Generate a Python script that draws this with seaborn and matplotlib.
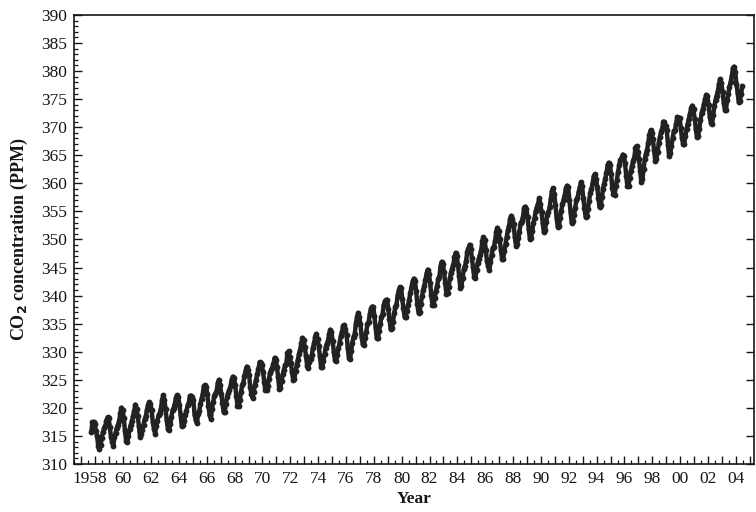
import numpy as np
import pandas as pd
import matplotlib
matplotlib.use("Agg")
import matplotlib.pyplot as plt
import matplotlib.transforms as mtransforms
from matplotlib.ticker import FixedLocator, MultipleLocator, FixedFormatter
import seaborn as sns

# Monthly mean CO2 at Mauna Loa (ppm), starting March 1958
co2_1950s = [315.71, 317.45, 317.50, 317.10, 315.86, 314.93, 313.20, 312.66, 313.33, 314.67,
             315.62, 316.38, 316.71, 317.72, 318.29, 318.15, 316.54, 314.80, 313.84, 313.26, 314.80, 315.58]
co2_1960s = [316.43, 316.97, 317.58, 319.02, 320.03, 319.59, 318.18, 315.91, 314.16, 313.83, 315.00, 316.19,
             316.93, 317.70, 318.54, 319.48, 320.58, 319.77, 318.57, 316.79, 314.80, 315.38, 316.10, 317.01,
             317.94, 318.55, 319.68, 320.57, 321.02, 320.62, 319.61, 317.40, 316.25, 315.42, 316.69, 317.70,
             318.74, 319.07, 319.86, 321.38, 322.25, 321.48, 319.74, 317.77, 316.21, 315.99, 317.07, 318.35,
             319.57, 320.01, 320.74, 321.84, 322.26, 321.89, 320.44, 318.69, 316.70, 316.87, 317.68, 318.71,
             319.44, 320.44, 320.89, 322.13, 322.16, 321.87, 321.39, 318.80, 317.81, 317.30, 318.87, 319.42,
             320.62, 321.59, 322.39, 323.87, 324.01, 323.75, 322.39, 320.37, 318.64, 318.10, 319.79, 321.08,
             322.07, 322.50, 323.04, 324.42, 325.00, 324.09, 322.55, 320.92, 319.31, 319.31, 320.72, 321.96,
             322.57, 323.15, 323.89, 325.02, 325.57, 325.36, 324.14, 322.03, 320.41, 320.25, 321.31, 322.84,
             324.00, 324.42, 325.64, 326.66, 327.34, 326.76, 325.88, 323.67, 322.38, 321.78, 322.85, 324.11]
co2_1970s = [325.03, 325.99, 326.87, 328.13, 328.07, 327.66, 326.35, 324.69, 323.10, 323.16, 323.98, 325.13,
             326.17, 326.68, 327.18, 327.78, 328.92, 328.57, 327.34, 325.46, 323.36, 323.57, 324.80, 326.01,
             326.77, 327.63, 327.75, 329.72, 330.07, 329.09, 328.05, 326.32, 324.93, 325.06, 326.50, 327.55,
             328.54, 329.56, 330.30, 331.50, 332.48, 332.07, 330.87, 329.31, 327.51, 327.18, 328.16, 328.64,
             329.35, 330.71, 331.48, 332.65, 333.19, 332.20, 331.07, 329.15, 327.33, 327.28, 328.31, 329.58,
             330.73, 331.46, 331.90, 333.17, 333.94, 333.45, 331.97, 329.95, 328.50, 328.34, 329.37, 330.58,
             331.59, 332.75, 333.52, 334.64, 334.77, 334.00, 333.06, 330.68, 328.95, 328.75, 330.15, 331.62,
             332.66, 333.13, 334.95, 336.13, 336.93, 336.17, 334.88, 332.56, 331.29, 331.27, 332.41, 333.60,
             334.95, 335.25, 336.66, 337.69, 338.03, 338.01, 336.41, 334.41, 332.37, 332.41, 333.75, 334.90,
             336.14, 336.69, 338.27, 338.95, 339.21, 339.26, 337.54, 335.75, 333.98, 334.19, 335.31, 336.81]
co2_1980s = [337.90, 338.34, 340.01, 340.93, 341.48, 341.33, 339.40, 337.70, 336.19, 336.15, 337.27, 338.32,
             339.29, 340.55, 341.61, 342.53, 343.03, 342.54, 340.78, 338.44, 336.95, 337.08, 338.58, 339.88,
             340.96, 341.73, 342.81, 343.97, 344.63, 343.79, 342.32, 340.09, 338.28, 338.29, 339.60, 340.90,
             341.68, 342.90, 343.33, 345.25, 346.03, 345.63, 344.19, 342.27, 340.35, 340.38, 341.59, 343.05,
             344.10, 344.79, 345.52, 346.84, 347.63, 346.97, 345.53, 343.55, 341.40, 341.67, 343.10, 344.70,
             345.21, 346.16, 347.74, 348.34, 349.06, 348.38, 346.72, 345.02, 343.27, 343.13, 344.49, 345.88,
             346.56, 347.28, 348.01, 349.77, 350.38, 349.93, 348.16, 346.08, 345.22, 344.51, 345.93, 347.22,
             348.52, 348.73, 349.73, 351.31, 352.09, 351.53, 350.11, 348.08, 346.52, 346.59, 347.96, 349.16,
             350.39, 351.64, 352.41, 353.69, 354.21, 353.72, 352.69, 350.40, 348.92, 349.13, 350.20, 351.41,
             352.91, 353.27, 353.96, 355.64, 355.86, 355.37, 353.99, 351.81, 350.05, 350.25, 351.49, 352.85]
co2_1990s = [353.80, 355.04, 355.73, 356.32, 357.32, 356.34, 354.84, 353.01, 351.31, 351.62, 353.07, 354.33,
             354.84, 355.73, 357.23, 358.66, 359.13, 358.13, 356.19, 353.85, 352.25, 352.35, 353.81, 355.12,
             356.25, 357.11, 357.86, 359.09, 359.59, 359.33, 357.01, 354.94, 352.96, 353.32, 354.32, 355.57,
             357.00, 357.31, 358.47, 359.27, 360.19, 359.52, 357.33, 355.64, 354.03, 354.12, 355.41, 356.91,
             358.24, 358.92, 359.99, 361.23, 361.65, 360.81, 359.38, 357.46, 355.73, 356.08, 357.53, 358.98,
             359.92, 360.86, 361.83, 363.30, 363.69, 363.19, 361.64, 359.12, 358.17, 357.99, 359.45, 360.68,
             362.07, 363.24, 364.17, 364.57, 365.13, 364.92, 363.55, 361.38, 359.54, 359.58, 360.89, 362.24,
             363.09, 364.03, 364.51, 366.35, 366.64, 365.59, 364.31, 362.25, 360.29, 360.82, 362.49, 364.38,
             365.26, 365.98, 367.24, 368.66, 369.42, 368.99, 367.82, 365.95, 364.02, 364.40, 365.52, 367.13,
             368.18, 369.07, 369.68, 370.99, 370.96, 370.30, 369.45, 366.90, 364.81, 365.37, 366.72, 368.10]
co2_2000s = [369.29, 369.54, 370.60, 371.82, 371.58, 371.70, 369.86, 368.13, 367.00, 367.03, 368.37, 369.67,
             370.59, 371.51, 372.43, 373.37, 373.85, 373.22, 371.50, 369.61, 368.18, 368.45, 369.76, 371.24,
             372.53, 373.20, 374.12, 375.02, 375.76, 375.52, 374.01, 371.85, 370.75, 370.55, 372.25, 373.79,
             374.88, 375.64, 376.45, 377.73, 378.60, 377.93, 376.28, 374.39, 373.11, 373.10, 374.77, 375.97,
             377.17, 378.05, 379.06, 380.54, 380.80, 379.87, 377.65, 376.17, 374.43, 374.63, 375.86, 377.34]

start_year, start_month = 1958, 3
label_years = list(range(1958, 2005, 2))
tick_text = ["1958"] + [f"{y % 100:02d}" for y in label_years[1:]]

co2 = co2_1950s + co2_1960s + co2_1970s + co2_1980s + co2_1990s + co2_2000s
months = np.arange(len(co2))
decimal_year = start_year + (start_month - 1 + months + 0.5) / 12.0
df = pd.DataFrame({"Year": decimal_year, "co2": co2})

sns.set_theme(style="ticks")
plt.rcParams["font.family"] = ["Liberation Serif", "DejaVu Serif"]
plt.rcParams["axes.linewidth"] = 1.2

ink = "#161616"
fig = plt.figure(figsize=(7.56, 5.12), dpi=100)
ax = fig.add_axes([0.0985, 0.0938, 0.8988, 0.8770])

sns.lineplot(data=df, x="Year", y="co2", ax=ax, estimator=None, color="#222222",
             linewidth=3.2, marker="o", markersize=4.2, markeredgewidth=0)

ax.set_xlim(1957.0, 2005.8)
ax.set_ylim(310, 390)

# year labels sit at mid-year; short ticks mark year boundaries
all_years = list(range(1957, 2006))
ax.xaxis.set_major_locator(FixedLocator([y + 0.5 for y in all_years]))
ax.xaxis.set_major_formatter(FixedFormatter(
    [tick_text[label_years.index(y)] if y in label_years else "" for y in all_years]))
ax.xaxis.set_minor_locator(FixedLocator(all_years))
ax.yaxis.set_major_locator(MultipleLocator(5))
ax.yaxis.set_minor_locator(MultipleLocator(1))

ax.tick_params(axis="both", which="major", direction="in", length=6, width=1.0,
               colors=ink, labelsize=12.5, pad=5)
ax.tick_params(axis="both", which="minor", direction="in", length=3, width=0.9, colors=ink)
ax.tick_params(axis="y", which="major", left=True, right=True)
ax.tick_params(axis="y", which="minor", left=True, right=False)
ax.tick_params(axis="x", which="both", top=False, bottom=True)

for side in ["left", "right", "top", "bottom"]:
    ax.spines[side].set_visible(True)
    ax.spines[side].set_color(ink)

# nudge the four-digit first label left so it clears "60"
fig.canvas.draw()
first = ax.xaxis.get_majorticklabels()[1]
first.set_transform(first.get_transform() +
                    mtransforms.ScaledTranslation(-6 / 100, 0, fig.dpi_scale_trans))

ax.set_xlabel("Year", fontsize=12.5, fontweight="bold", color=ink, labelpad=3)
ax.set_ylabel("CO$_\\mathbf{2}$ concentration (PPM)", fontsize=13, fontweight="bold",
              color=ink, labelpad=8)

fig.savefig("out.png", dpi=100)
